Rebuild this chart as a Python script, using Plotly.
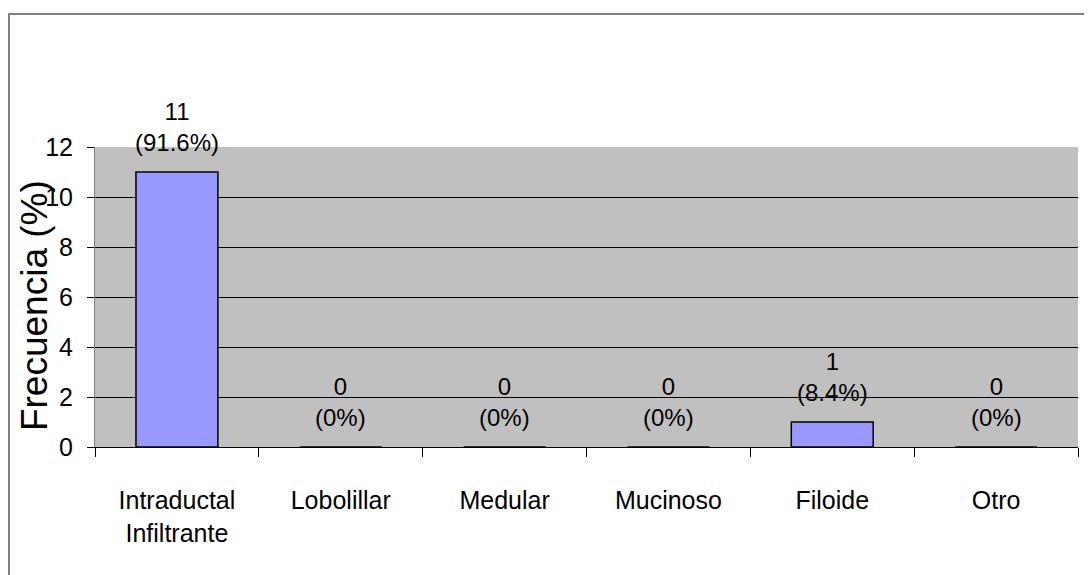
import plotly.graph_objects as go

categories = ["Intraductal<br>Infiltrante", "Lobolillar", "Medular", "Mucinoso", "Filoide", "Otro"]
values = [11, 0, 0, 0, 1, 0]
percent_labels = ["91.6%", "0%", "0%", "0%", "8.4%", "0%"]
y_ticks = [0, 2, 4, 6, 8, 10, 12]

FONT = "Liberation Sans, Arial, sans-serif"

fig = go.Figure()
fig.add_trace(go.Bar(
    x=categories,
    y=values,
    width=0.5,
    marker=dict(color="#9999FF", line=dict(color="#000000", width=1.5)),
    hoverinfo="skip",
))

for cat, v, p in zip(categories, values, percent_labels):
    fig.add_annotation(
        x=cat, y=v, xref="x", yref="y",
        text=f"{v}<br>({p})",
        showarrow=False,
        yanchor="bottom",
        yshift=14,
        font=dict(family=FONT, size=24, color="#000000"),
    )

fig.add_annotation(
    x=-0.062, y=0.47, xref="paper", yref="paper",
    text="Frecuencia (%)", textangle=-90, showarrow=False,
    xanchor="center", yanchor="middle",
    font=dict(family=FONT, size=37, color="#000000"),
)

# outer chart frame
fig.add_shape(type="rect", xref="paper", yref="paper",
              x0=-0.0875, x1=1.2, y0=-0.6, y1=1.4433,
              line=dict(color="#7f7f7f", width=2), fillcolor="rgba(0,0,0,0)", layer="below")

fig.update_layout(
    width=1084, height=567,
    margin=dict(l=87, r=14, t=139, b=128),
    paper_bgcolor="#FFFFFF",
    plot_bgcolor="#C0C0C0",
    showlegend=False,
    bargap=0.5,
    font=dict(family=FONT, color="#000000"),
)

fig.update_xaxes(
    type="category",
    categoryorder="array", categoryarray=categories,
    range=[-0.5, len(categories) - 0.5],
    tickson="boundaries",
    ticks="outside", ticklen=9, tickcolor="#000000", tickwidth=1,
    showgrid=False, zeroline=False,
    showline=True, linecolor="#000000", linewidth=1,
    tickfont=dict(family=FONT, size=25, color="#000000"),
    ticklabelstandoff=31,
)
fig.update_yaxes(
    range=[0, 12],
    tickmode="array", tickvals=y_ticks,
    ticks="outside", ticklen=7, tickcolor="#000000", tickwidth=1,
    showgrid=True, gridcolor="#000000", gridwidth=1,
    zeroline=False,
    showline=True, linecolor="#808080", linewidth=1,
    tickfont=dict(family=FONT, size=25, color="#000000"),
    ticklabelstandoff=9,
)

fig.write_html("out.html")
